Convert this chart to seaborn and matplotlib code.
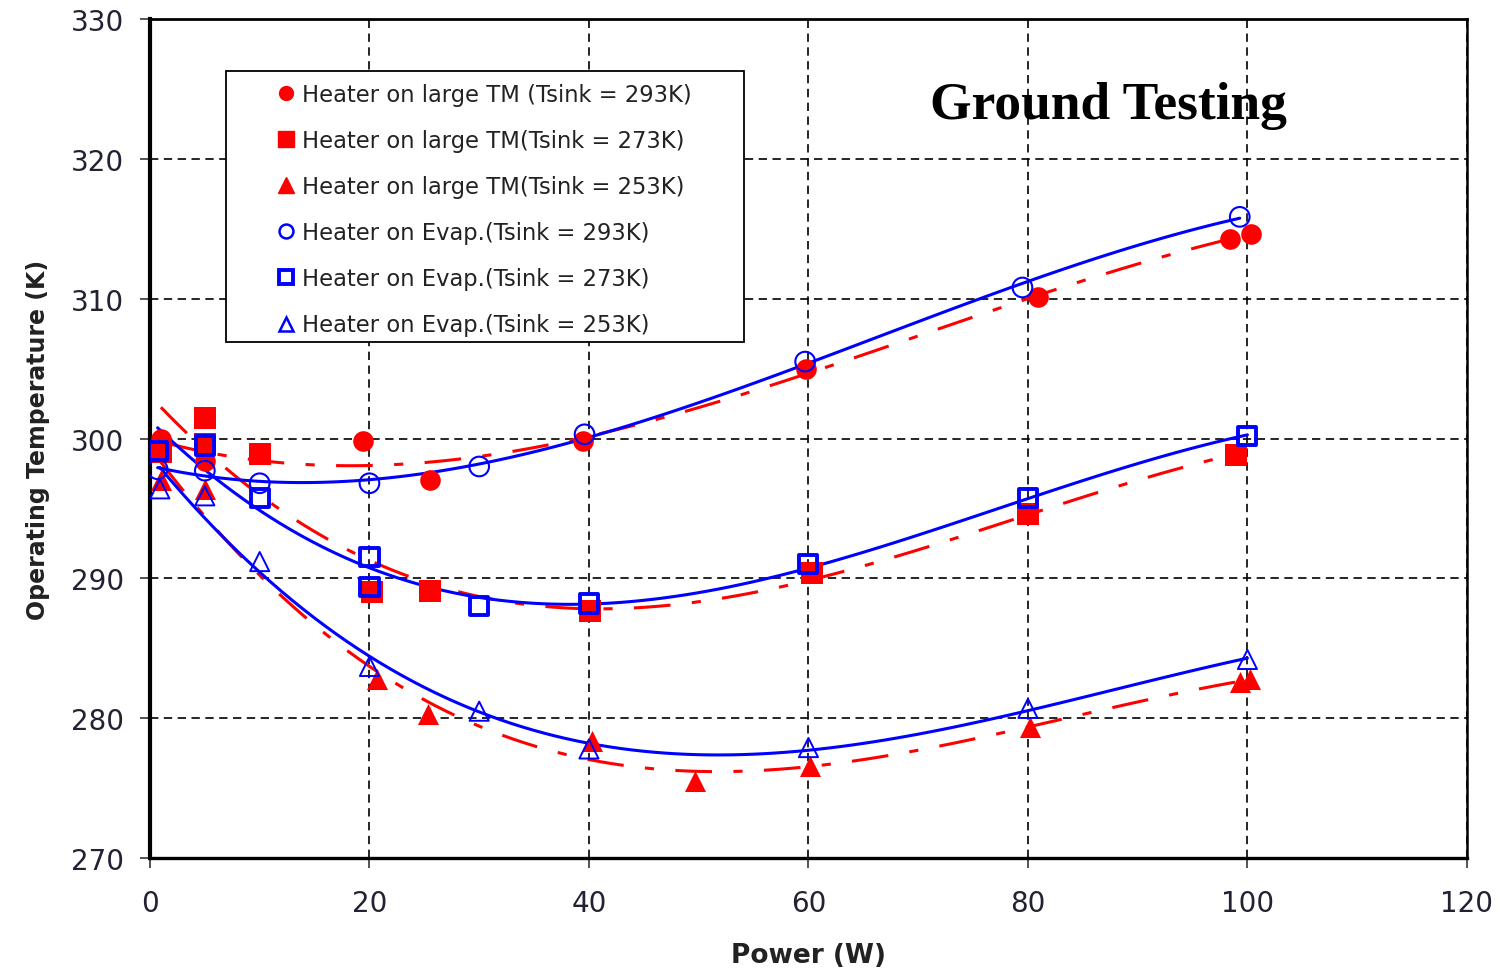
import matplotlib
matplotlib.use('Agg')
import matplotlib.pyplot as plt
from matplotlib.lines import Line2D
from matplotlib.patches import Rectangle
import pandas as pd
import seaborn as sns

# 数据: heater on large TM (红色实心)
tm293_x = [1, 5, 19.4, 25.5, 39.5, 59.8, 80.9, 98.4, 100.3]
tm293_y = [300.0, 298.4, 299.8, 297.0, 299.8, 305.0, 310.1, 314.3, 314.6]
tm273_x = [1, 5, 5, 10, 20.2, 25.5, 40.1, 60.3, 80.0, 99.0]
tm273_y = [299.0, 301.5, 299.6, 298.9, 289.0, 289.1, 287.7, 290.4, 294.6, 298.8]
tm253_x = [1, 5, 20.7, 25.3, 40.3, 49.7, 60.1, 80.2, 99.3, 100.2]
tm253_y = [297.0, 296.4, 282.8, 280.3, 278.4, 275.5, 276.6, 279.4, 282.6, 282.8]

# 数据: heater on evaporator (蓝色空心)
ev293_x = [0.7, 5, 10, 20, 30, 39.6, 59.7, 79.5, 99.3]
ev293_y = [297.8, 297.7, 296.8, 296.8, 298.0, 300.3, 305.5, 310.8, 315.85]
ev273_x = [0.7, 5, 10, 20, 20, 30, 40, 60, 80, 100]
ev273_y = [299.1, 299.5, 295.75, 291.5, 289.4, 288.0, 288.2, 291.0, 295.75, 300.2]
ev253_x = [0.9, 5, 10, 20, 30, 40, 60, 80, 100]
ev253_y = [296.4, 295.9, 291.2, 283.7, 280.5, 277.8, 277.9, 280.7, 284.2]

labels = ['Heater on large TM (Tsink = 293K)',
          'Heater on large TM(Tsink = 273K)',
          'Heater on large TM(Tsink = 253K)',
          'Heater on Evap.(Tsink = 293K)',
          'Heater on Evap.(Tsink = 273K)',
          'Heater on Evap.(Tsink = 253K)']

sns.set_style('white')
plt.rcParams['font.family'] = ['DejaVu Sans']

fig = plt.figure(figsize=(15.01, 9.70), dpi=100)
ax = fig.add_axes([0.0999, 0.1144, 0.8774, 0.8650])

red_line = dict(color='red', lw=2.2, dashes=(12, 7, 3, 7))
blue_line = dict(color='blue', lw=2.2)

# 趋势线 (三次多项式拟合)
for xs, ys in [(tm293_x, tm293_y), (tm273_x, tm273_y), (tm253_x, tm253_y)]:
    df = pd.DataFrame({'x': xs, 'y': ys})
    sns.regplot(data=df, x='x', y='y', order=3, scatter=False, ci=None,
                truncate=True, line_kws=red_line, ax=ax)
for xs, ys in [(ev293_x, ev293_y), (ev273_x, ev273_y), (ev253_x, ev253_y)]:
    df = pd.DataFrame({'x': xs, 'y': ys})
    sns.regplot(data=df, x='x', y='y', order=3, scatter=False, ci=None,
                truncate=True, line_kws=blue_line, ax=ax)

# 数据点
sns.scatterplot(x=tm293_x, y=tm293_y, marker='o', s=220, color='red', edgecolor='red', linewidth=0, ax=ax, zorder=3)
sns.scatterplot(x=tm273_x, y=tm273_y, marker='s', s=230, color='red', edgecolor='red', linewidth=0, ax=ax, zorder=3)
sns.scatterplot(x=tm253_x, y=tm253_y, marker='^', s=230, color='red', edgecolor='red', linewidth=0, ax=ax, zorder=3)
ax.scatter(ev293_x, ev293_y, marker='o', s=200, facecolors='none', edgecolors='blue', linewidths=1.5, zorder=4)
ax.scatter(ev273_x, ev273_y, marker='s', s=170, facecolors='none', edgecolors='blue', linewidths=2.8, zorder=4)
ax.scatter(ev253_x, ev253_y, marker='^', s=190, facecolors='none', edgecolors='blue', linewidths=1.4, zorder=4)

ax.set_xlim(0, 120)
ax.set_ylim(270, 330)
ax.set_xticks(range(0, 121, 20))
ax.set_yticks(range(270, 331, 10))
ax.grid(True, color='black', linestyle=(0, (5, 3.3)), lw=1.2)
ax.set_axisbelow(True)
ax.tick_params(direction='out', length=7.5, width=1.1, labelsize=20,
               labelcolor='#222233', left=True, bottom=True)
ax.tick_params(axis='x', pad=15)
ax.tick_params(axis='y', pad=11)

for side, w in [('left', 3.0), ('bottom', 2.4), ('top', 2.0), ('right', 1.8)]:
    ax.spines[side].set_color('black')
    ax.spines[side].set_linewidth(w)

ax.set_xlabel('Power (W)', fontsize=19, fontweight='bold', color='#222222', labelpad=18)
ax.set_ylabel('Operating Temperature (K)', fontsize=17, fontweight='bold', color='#222222', labelpad=15)

ax.text(0.728, 0.898, 'Ground Testing', transform=ax.transAxes, ha='center', va='center',
        fontsize=38.5, fontweight='bold', family='Liberation Serif', color='black')

# 图例
ax.add_patch(Rectangle((0.0577, 0.615), 0.393, 0.323, transform=ax.transAxes,
                       facecolor='white', edgecolor='black', lw=1.3, zorder=5))
handles = [
    Line2D([], [], ls='none', marker='o', ms=10, color='red'),
    Line2D([], [], ls='none', marker='s', ms=11, color='red'),
    Line2D([], [], ls='none', marker='^', ms=11, color='red'),
    Line2D([], [], ls='none', marker='o', ms=10, mfc='none', mec='blue', mew=1.8),
    Line2D([], [], ls='none', marker='s', ms=10, mfc='none', mec='blue', mew=2.8),
    Line2D([], [], ls='none', marker='^', ms=10, mfc='none', mec='blue', mew=1.8),
]
leg = ax.legend(handles, labels, loc='upper left', bbox_to_anchor=(0.0964, 0.9237),
                frameon=False, fontsize=16.3, handlelength=0.8, handletextpad=0.3,
                labelspacing=1.02, borderpad=0, borderaxespad=0)
for t in leg.get_texts():
    t.set_color('#222222')
leg.set_zorder(6)

fig.savefig('out.png', dpi=100)
